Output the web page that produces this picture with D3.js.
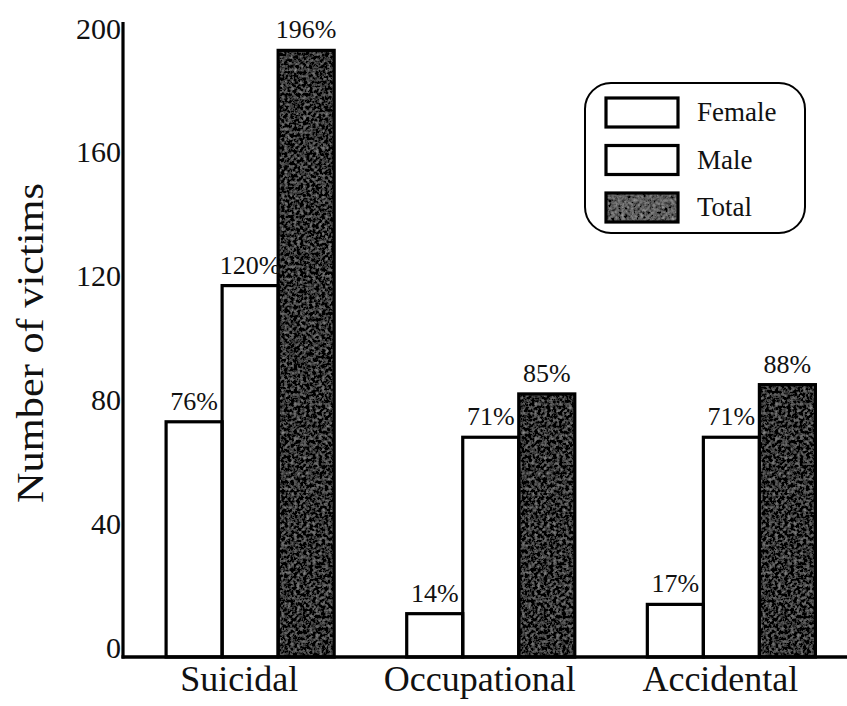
<!DOCTYPE html>
<html>
<head>
<meta charset="utf-8">
<script src="https://cdn.jsdelivr.net/npm/d3@7"></script>
<style>
  html, body { margin: 0; padding: 0; background: #fff; }
  svg { display: block; font-family: "Liberation Serif", "DejaVu Serif", serif; }
</style>
</head>
<body>
<svg id="chart" width="847" height="706"></svg>
<script>
// Victims by incident type, split into female / male / total
const categories = ["Suicidal", "Occupational", "Accidental"];
const seriesNames = ["Female", "Male", "Total"];
const female = [76, 14, 17];
const male = [120, 71, 71];
const total = [196, 85, 88];
const yTicks = [0, 40, 80, 120, 160, 200];

const rows = categories.map((c, i) => ({
  category: c,
  values: [
    { key: "Female", value: female[i] },
    { key: "Male", value: male[i] },
    { key: "Total", value: total[i] }
  ]
}));

const svg = d3.select("#chart");
const axisX = 123;
const baseY = 657;

// mottled dark fill used for the "Total" bars and its legend key
const defs = svg.append("defs");
const grain = defs.append("filter").attr("id", "grain")
  .attr("x", 0).attr("y", 0).attr("width", 1).attr("height", 1);
grain.append("feTurbulence").attr("type", "fractalNoise")
  .attr("baseFrequency", 0.32).attr("numOctaves", 3).attr("seed", 7).attr("result", "noise");
grain.append("feColorMatrix").attr("in", "noise").attr("type", "matrix")
  .attr("values", "0.33 0.33 0.33 0 0  0.33 0.33 0.33 0 0  0.33 0.33 0.33 0 0  0 0 0 0 1")
  .attr("result", "gray");
grain.append("feComposite").attr("in", "SourceGraphic").attr("in2", "gray")
  .attr("operator", "arithmetic").attr("k1", 0).attr("k2", 1).attr("k3", 0.85).attr("k4", -0.425)
  .attr("result", "mix");
grain.append("feComposite").attr("in", "mix").attr("in2", "SourceAlpha").attr("operator", "in");

const y = d3.scaleLinear().domain([0, 200]).range([baseY, 38]);
const x0 = d3.scaleBand().domain(categories).range([130, 851.5])
  .paddingInner(0.3015).paddingOuter(0.15);
const x1 = d3.scaleBand().domain(seriesNames).range([0, x0.bandwidth()]).padding(0);
const fillOf = { Female: "#ffffff", Male: "#ffffff", Total: "#353535" };

// bars
const groups = svg.append("g").selectAll("g").data(rows).join("g")
  .attr("transform", d => `translate(${x0(d.category)},0)`);

groups.selectAll("rect.fill").data(d => d.values).join("rect")
  .attr("class", "fill")
  .attr("x", d => x1(d.key))
  .attr("y", d => y(d.value))
  .attr("width", x1.bandwidth())
  .attr("height", d => baseY - y(d.value))
  .attr("fill", d => fillOf[d.key])
  .attr("filter", d => d.key === "Total" ? "url(#grain)" : null);

groups.selectAll("rect.edge").data(d => d.values).join("rect")
  .attr("class", "edge")
  .attr("x", d => x1(d.key))
  .attr("y", d => y(d.value))
  .attr("width", x1.bandwidth())
  .attr("height", d => baseY - y(d.value))
  .attr("fill", "none")
  .attr("stroke", "#000")
  .attr("stroke-width", 3.2);

// percentage labels above bars
groups.selectAll("text.val").data(d => d.values).join("text")
  .attr("class", "val")
  .attr("x", d => x1(d.key) + x1.bandwidth() / 2)
  .attr("y", d => y(d.value) - 12)
  .attr("text-anchor", "middle")
  .attr("font-size", 26)
  .attr("fill", "#111")
  .text(d => d.value + "%");

// y axis: numbers sit on their value line, no tick marks
const yAxis = d3.axisLeft(y).tickValues(yTicks).tickSize(0).tickPadding(2);
const yg = svg.append("g").attr("transform", `translate(${axisX},0)`).call(yAxis);
yg.select(".domain").remove();
yg.selectAll("text")
  .attr("dy", "0")
  .attr("font-size", 30)
  .attr("font-family", "Liberation Serif, serif")
  .attr("fill", "#111");

// axis lines
svg.append("line")
  .attr("x1", axisX).attr("x2", axisX).attr("y1", 22).attr("y2", baseY + 1.5)
  .attr("stroke", "#000").attr("stroke-width", 3.2);
svg.append("line")
  .attr("x1", axisX - 1.5).attr("x2", 847).attr("y1", baseY).attr("y2", baseY)
  .attr("stroke", "#000").attr("stroke-width", 3.4);

// category labels
const xAxis = d3.axisBottom(x0).tickSize(0).tickPadding(0);
const xg = svg.append("g").attr("transform", `translate(0,${baseY})`).call(xAxis);
xg.select(".domain").remove();
xg.selectAll("text")
  .attr("dy", "0")
  .attr("dx", -11)
  .attr("y", 34)
  .attr("font-size", 36)
  .attr("font-family", "Liberation Serif, serif")
  .attr("fill", "#111");

// y axis title
svg.append("text")
  .attr("transform", "translate(43,343) rotate(-90)")
  .attr("text-anchor", "middle")
  .attr("font-size", 38)
  .attr("textLength", 320)
  .attr("lengthAdjust", "spacingAndGlyphs")
  .attr("fill", "#111")
  .text("Number of victims");

// legend
const legend = svg.append("g");
legend.append("rect")
  .attr("x", 585).attr("y", 83).attr("width", 220).attr("height", 150)
  .attr("rx", 26).attr("ry", 26)
  .attr("fill", "#fff").attr("stroke", "#000").attr("stroke-width", 2);
const legendY = d3.scalePoint().domain(seriesNames).range([98, 193]);
const items = legend.selectAll("g.item").data(seriesNames).join("g")
  .attr("class", "item")
  .attr("transform", d => `translate(606,${legendY(d)})`);
items.append("rect")
  .attr("width", 72).attr("height", 29)
  .attr("fill", d => d === "Total" ? "#606060" : "#fff")
  .attr("filter", d => d === "Total" ? "url(#grain)" : null);
items.append("rect")
  .attr("width", 72).attr("height", 29)
  .attr("fill", "none").attr("stroke", "#000").attr("stroke-width", 3.2);
items.append("text")
  .attr("x", 91).attr("y", 23)
  .attr("font-size", 27)
  .attr("fill", "#111")
  .text(d => d);
</script>
</body>
</html>
